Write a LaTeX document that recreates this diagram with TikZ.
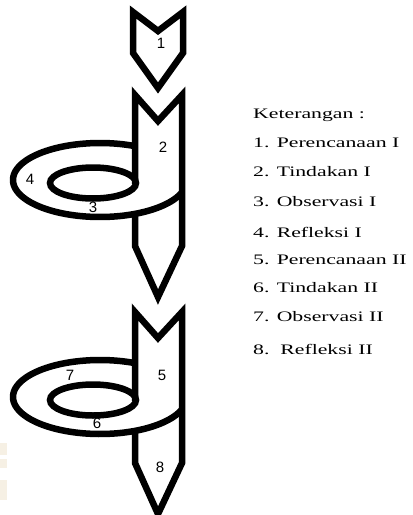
\documentclass[tikz,border=0pt]{standalone}
\usepackage{fontspec}
\setmainfont{Liberation Serif}
\newfontfamily\lblfont{Liberation Sans}
\definecolor{artefact}{RGB}{246,240,228}
\begin{document}
\begin{tikzpicture}[x=1pt,y=-1pt,
  outl/.style={line width=6.5pt,line join=miter,draw=black},
  num/.style={font=\lblfont\fontsize{15}{15}\selectfont,inner sep=0pt},
  leg/.style={font=\fontsize{14.5}{14.5}\selectfont,inner sep=0pt,anchor=west}]
\useasboundingbox[fill=white] (0,0) rectangle (413,515);
% faint artefacts at the left edge
\fill[artefact] (0,443) rectangle (7,455);
\fill[artefact] (0,459) rectangle (7,468);
\fill[artefact] (0,480) rectangle (7,500);
% arrow 1
\draw[outl] (133,12) -- (158,31) -- (183,12) -- (183,53) -- (158,88) -- (133,53) -- cycle;
\node[num] (n1) at (161,43) {1};
% spiral units
\foreach \dy in {0,217}{
\begin{scope}[shift={(0,\dy)}]
  \draw[outl] (135,184) -- (135,95) -- (158,121) -- (182,95) -- (182,246) -- (158,297) -- (135,246) -- (135,212);
  \draw[outl] plot[domain=66.3:340.5,samples=120,smooth] ({100+87*cos(\x)},{180-37*sin(\x)});
  \draw[outl] (93,183) ellipse [x radius=43pt, y radius=15.5pt];
\end{scope}
}
\node[num] (n2) at (163,147) {2};
\node[num] (n4) at (30,179) {4};
\node[num] (n3) at (93,207) {3};
\node[num] (n5) at (162,375) {5};
\node[num] (n7) at (70,375) {7};
\node[num] (n6) at (97,423) {6};
\node[num] (n8) at (160,467) {8};
% legend
\node[leg] (k) at (253,115) {\scalebox{1.5}[1]{Keterangan :}};
\node[leg] (l1) at (253,143) {\scalebox{1.5}[1]{1. Perencanaan I}};
\node[leg] (l2) at (253,172) {\scalebox{1.5}[1]{2. Tindakan I}};
\node[leg] (l3) at (253,202) {\scalebox{1.5}[1]{3. Observasi I}};
\node[leg] (l4) at (253,232) {\scalebox{1.5}[1]{4. Refleksi I}};
\node[leg] (l5) at (253,260) {\scalebox{1.5}[1]{5. Perencanaan II}};
\node[leg] (l6) at (253,288) {\scalebox{1.5}[1]{6. Tindakan II}};
\node[leg] (l7) at (253,317) {\scalebox{1.5}[1]{7. Observasi II}};
\node[leg] (l8) at (253,349) {\scalebox{1.5}[1]{8.\ \ Refleksi II}};
\end{tikzpicture}
\end{document}
